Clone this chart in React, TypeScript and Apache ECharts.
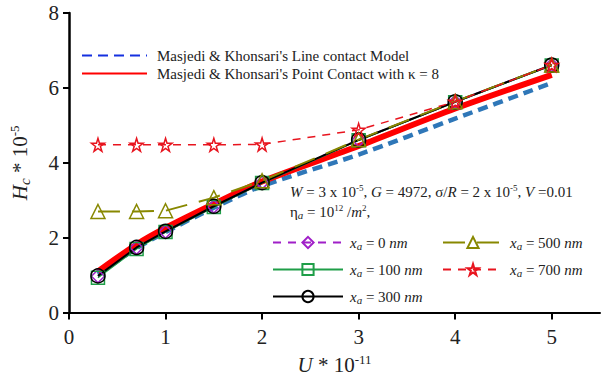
import React, { useEffect, useRef } from "react";
import * as echarts from "echarts";

const U = [0.3, 0.7, 1, 1.5, 2, 3, 4, 5];
const lineContact = [1.02, 1.72, 2.15, 2.8, 3.38, 4.22, 5.18, 6.13];
const pointContact = [1.1, 1.82, 2.26, 2.9, 3.5, 4.45, 5.45, 6.35];
const xa0 = [0.97, 1.73, 2.16, 2.83, 3.47, 4.61, 5.63, 6.61];
const xa100 = [0.93, 1.7, 2.15, 2.82, 3.46, 4.6, 5.62, 6.6];
const xa300 = [0.98, 1.74, 2.17, 2.84, 3.47, 4.61, 5.63, 6.61];
const xa500 = [2.7, 2.7, 2.72, 3.07, 3.52, 4.62, 5.64, 6.61];
const xa700 = [4.48, 4.48, 4.48, 4.48, 4.49, 4.88, 5.63, 6.61];
const xTicks = [0, 1, 2, 3, 4, 5];
const yTicks = [0, 2, 4, 6, 8];

const NAME_LINE = "Masjedi & Khonsari's Line contact Model";
const NAME_POINT = "Masjedi & Khonsari's Point Contact with κ = 8";
const N0 = "xa0";
const N100 = "xa100";
const N300 = "xa300";
const N500 = "xa500";
const N700 = "xa700";
const legendLabels: Record<string, string> = {
  xa0: "0",
  xa100: "100",
  xa300: "300",
  xa500: "500",
  xa700: "700",
};

const FONT = "Liberation Serif";
const STAR =
  "path://M50,0 L61,35 L98,35 L68,57 L79,91 L50,70 L21,91 L32,57 L2,35 L39,35 Z";

const zip = (ys: number[]) => U.map((u, i) => [u, ys[i]]);

const richBase = (size: number) => ({
  n: { fontFamily: FONT, fontSize: size, color: "#222" },
  i: { fontFamily: FONT, fontSize: size, fontStyle: "italic", color: "#222" },
  sub: {
    fontFamily: FONT,
    fontSize: Math.round(size * 0.72),
    fontStyle: "italic",
    color: "#222",
    padding: [Math.round(size * 0.45), 0, 0, 0],
  },
  sup: {
    fontFamily: FONT,
    fontSize: Math.round(size * 0.62),
    color: "#222",
    padding: [0, 0, Math.round(size * 0.5), 0],
  },
});

export default function App() {
  const ref = useRef<HTMLDivElement>(null);
  useEffect(() => {
    if (!ref.current) return;
    const chart = echarts.init(ref.current, undefined, { renderer: "svg" });
    const xaSeries = (
      name: string,
      ys: number[],
      color: string,
      symbol: string,
      size: number,
      type: any,
      width: number
    ) => ({
      name,
      type: "line",
      data: zip(ys),
      symbol,
      symbolSize: size,
      showSymbol: true,
      lineStyle: { color, width, type },
      itemStyle: { color: "transparent", borderColor: color, borderWidth: 1.5 },
      emphasis: { disabled: true },
      z: 3,
    });
    const legendText = {
      fontFamily: FONT,
      fontSize: 15,
      color: "#222",
      padding: [0, 0, 0, 2],
      rich: richBase(15),
    };
    chart.setOption({
      animation: false,
      backgroundColor: "#fff",
      textStyle: { fontFamily: FONT },
      grid: { left: 67, right: 2, top: 13, bottom: 67, containLabel: false },
      xAxis: {
        type: "value",
        min: 0,
        max: 5.5,
        interval: 1,
        name: "{i|U}{n| * 10}{sup|-11}",
        nameLocation: "middle",
        nameGap: 38,
        nameTextStyle: { fontFamily: FONT, fontSize: 21, rich: richBase(21) },
        axisLine: { lineStyle: { color: "#000", width: 2 } },
        axisTick: {
          show: true,
          length: 7,
          lineStyle: { color: "#000", width: 2 },
          customValues: xTicks,
        },
        axisLabel: {
          fontFamily: FONT,
          fontSize: 21,
          color: "#222",
          margin: 14,
          customValues: xTicks,
          formatter: (v: number) => (Number.isInteger(v) ? String(v) : ""),
        },
        splitLine: { show: false },
      },
      yAxis: {
        type: "value",
        min: 0,
        max: 8,
        interval: 2,
        name: "{i|H}{sub|c}{n| * 10}{sup|-5}",
        nameLocation: "middle",
        nameRotate: 90,
        nameGap: 37,
        nameTextStyle: { fontFamily: FONT, fontSize: 21, rich: richBase(21) },
        axisLine: { show: true, lineStyle: { color: "#000", width: 2.5 } },
        axisTick: {
          show: true,
          length: 6,
          lineStyle: { color: "#000", width: 2 },
          customValues: yTicks,
        },
        axisLabel: {
          fontFamily: FONT,
          fontSize: 21,
          color: "#222",
          margin: 10,
          customValues: yTicks,
        },
        splitLine: { show: false },
      },
      legend: [
        {
          data: [
            {
              name: NAME_LINE,
              lineStyle: { color: "#1530e0" },
              itemStyle: { opacity: 0 },
            },
            { name: NAME_POINT, itemStyle: { opacity: 0 } },
          ],
          orient: "vertical",
          left: 76,
          top: 43,
          itemWidth: 65,
          itemHeight: 14,
          itemGap: 3,
          selectedMode: false,
          textStyle: { fontFamily: FONT, fontSize: 15, color: "#222", padding: [0, 0, 0, 5] },
        },
        {
          data: [N0, N100, N300],
          orient: "vertical",
          left: 267,
          top: 230,
          itemWidth: 70,
          itemHeight: 14,
          itemGap: 10.5,
          selectedMode: false,
          formatter: (n: string) =>
            "{i|x}{sub|a}{n| = " + legendLabels[n] + " }{i|nm}",
          textStyle: legendText,
        },
        {
          data: [N500, N700],
          orient: "vertical",
          left: 437,
          top: 230,
          itemWidth: 60,
          itemHeight: 14,
          itemGap: 10.5,
          selectedMode: false,
          formatter: (n: string) =>
            "{i|x}{sub|a}{n| = " + legendLabels[n] + " }{i|nm}",
          textStyle: legendText,
        },
      ],
      graphic: [
        {
          type: "text",
          left: 290,
          top: 183,
          style: {
            text: "{i|W}{n| = 3 x 10}{sup|-5}{n|, }{i|G}{n| = 4972, σ/}{i|R}{n| = 2 x 10}{sup|-5}{n|, }{i|V}{n| =0.01}",
            rich: richBase(15),
            font: "15px " + FONT,
            fill: "#222",
          },
        },
        {
          type: "text",
          left: 290,
          top: 203,
          style: {
            text: "{n|η}{sub|a}{n| = 10}{sup|12}{n| /}{i|m}{sup|2}{n|,}",
            rich: richBase(15),
            font: "15px " + FONT,
            fill: "#222",
          },
        },
      ],
      series: [
        {
          name: NAME_LINE,
          type: "line",
          data: zip(lineContact),
          smooth: 0.3,
          symbol: "none",
          lineStyle: { color: "#2f77b8", width: 4.5, type: [10, 6] },
          itemStyle: { color: "#2f77b8" },
          z: 1,
        },
        {
          name: NAME_POINT,
          type: "line",
          data: zip(pointContact),
          smooth: 0.3,
          symbol: "none",
          lineStyle: { color: "#ff0000", width: 6 },
          itemStyle: { color: "#ff0000" },
          z: 2,
        },
        xaSeries(N0, xa0, "#a01fc8", "diamond", 13, [8, 7], 2),
        xaSeries(N100, xa100, "#1f9e48", "rect", 13, "solid", 1.5),
        xaSeries(N300, xa300, "#000000", "circle", 14, "solid", 2),
        xaSeries(N500, xa500, "#888800", "triangle", 14, [22, 12], 2),
        xaSeries(N700, xa700, "#e8141e", STAR, 13, [8, 7], 1.5),
      ],
    });
    return () => chart.dispose();
  }, []);
  return (
    <div
      ref={ref}
      style={{ position: "absolute", left: 0, top: 0, width: 602, height: 380 }}
    />
  );
}
